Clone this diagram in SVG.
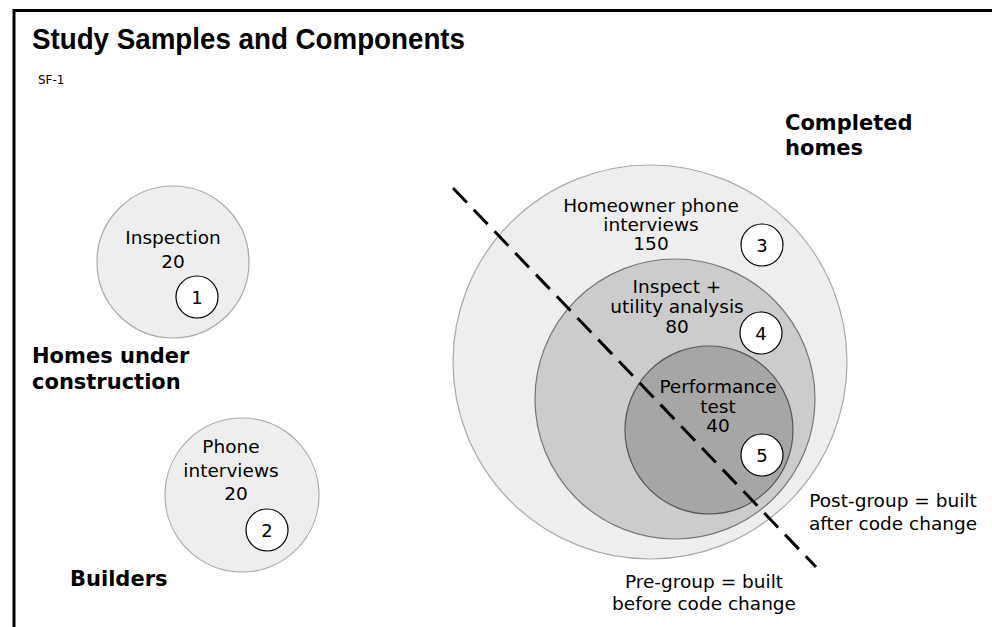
<svg xmlns="http://www.w3.org/2000/svg" width="992" height="627" viewBox="0 0 992 627">
<style>
text{font-family:"DejaVu Sans","Liberation Sans",Arial,sans-serif;fill:#000}
text.title{font-family:"Liberation Sans",Arial,sans-serif;font-weight:bold;font-size:30px}
.t{font-size:18.5px;text-anchor:middle}
.b{font-weight:bold;font-size:21px}
.n{font-size:18px;text-anchor:middle}
.num{fill:#fff;stroke:#000;stroke-width:1.2}
</style>
<rect width="992" height="627" fill="#fff"/>
<path d="M14 627V10.5H992" fill="none" stroke="#000" stroke-width="3"/>
<text class="title" x="32" y="49" textLength="433" lengthAdjust="spacingAndGlyphs">Study Samples and Components</text>
<text x="38" y="84" font-size="12">SF-1</text>

<g id="inspection">
<circle cx="173" cy="262" r="76" fill="#eeeeee" stroke="#aaaaaa" stroke-width="1.2"/>
<text class="t" x="173" y="244">Inspection</text>
<text class="t" x="173" y="268">20</text>
<circle class="num" cx="197" cy="297" r="21"/>
<text class="n" x="197" y="303.5">1</text>
</g>
<text class="b" x="32" y="363">Homes under</text>
<text class="b" x="32" y="389">construction</text>

<g id="builders">
<circle cx="242" cy="495" r="77" fill="#eeeeee" stroke="#aaaaaa" stroke-width="1.2"/>
<text class="t" x="231" y="453">Phone</text>
<text class="t" x="231" y="477">interviews</text>
<text class="t" x="236" y="500">20</text>
<circle class="num" cx="267" cy="530" r="21"/>
<text class="n" x="267" y="536.5">2</text>
</g>
<text class="b" x="70" y="586">Builders</text>

<g id="completed">
<circle cx="650" cy="362" r="197" fill="#eeeeee" stroke="#aaaaaa" stroke-width="1.2"/>
<text class="t" x="651" y="212">Homeowner phone</text>
<text class="t" x="651" y="231">interviews</text>
<text class="t" x="651" y="250">150</text>
<circle class="num" cx="762" cy="245" r="21"/>
<text class="n" x="762" y="251.5">3</text>
</g>
<g id="inspect-utility">
<circle cx="675" cy="399" r="140" fill="#cccccc" stroke="#777777" stroke-width="1.2"/>
<text class="t" x="677" y="293">Inspect +</text>
<text class="t" x="677" y="313">utility analysis</text>
<text class="t" x="677" y="333">80</text>
<circle class="num" cx="761" cy="333" r="21"/>
<text class="n" x="761" y="339.5">4</text>
</g>
<g id="performance">
<circle cx="709" cy="430" r="84" fill="#a6a6a6" stroke="#555555" stroke-width="1.2"/>
<text class="t" x="718" y="393">Performance</text>
<text class="t" x="718" y="413">test</text>
<text class="t" x="718" y="432">40</text>
<circle class="num" cx="762" cy="455" r="21"/>
<text class="n" x="762" y="461.5">5</text>
</g>
<text class="b" x="785" y="130">Completed</text>
<text class="b" x="785" y="155">homes</text>

<g id="connectors">
<line x1="453" y1="188" x2="816" y2="567" stroke="#000" stroke-width="3" stroke-dasharray="20 10"/>
</g>
<text class="t" x="893" y="507">Post-group = built</text>
<text class="t" x="893" y="530">after code change</text>
<text class="t" x="704" y="588">Pre-group = built</text>
<text class="t" x="704" y="610">before code change</text>
</svg>
